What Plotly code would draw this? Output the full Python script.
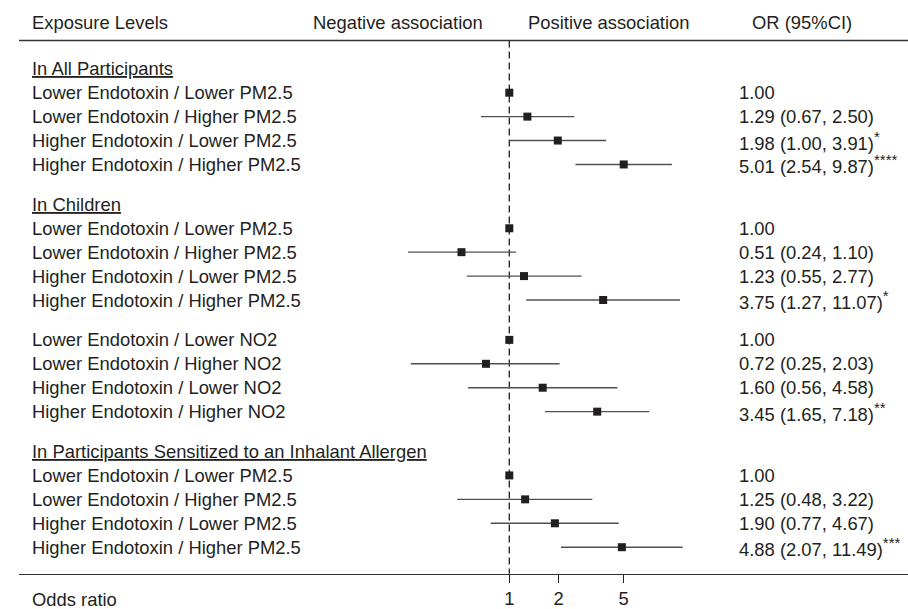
import plotly.graph_objects as go

# ---------------- data ----------------
col_titles = ["Exposure Levels", "Negative association", "Positive association", "OR (95%CI)"]
axis_title = "Odds ratio"
x_ticks = [1, 2, 5]
x_tick_text = ["1", "2", "5"]

header_all = "In All Participants"
header_children = "In Children"
header_sensitized = "In Participants Sensitized to an Inhalant Allergen"

labels_pm = ["Lower Endotoxin / Lower PM2.5", "Lower Endotoxin / Higher PM2.5",
             "Higher Endotoxin / Lower PM2.5", "Higher Endotoxin / Higher PM2.5"]
labels_no2 = ["Lower Endotoxin / Lower NO2", "Lower Endotoxin / Higher NO2",
              "Higher Endotoxin / Lower NO2", "Higher Endotoxin / Higher NO2"]

or_all = [1.00, 1.29, 1.98, 5.01]
lo_all = [None, 0.67, 1.00, 2.54]
hi_all = [None, 2.50, 3.91, 9.87]
sig_all = ["", "", "*", "****"]

or_child_pm = [1.00, 0.51, 1.23, 3.75]
lo_child_pm = [None, 0.24, 0.55, 1.27]
hi_child_pm = [None, 1.10, 2.77, 11.07]
sig_child_pm = ["", "", "", "*"]

or_child_no2 = [1.00, 0.72, 1.60, 3.45]
lo_child_no2 = [None, 0.25, 0.56, 1.65]
hi_child_no2 = [None, 2.03, 4.58, 7.18]
sig_child_no2 = ["", "", "", "**"]

or_sens = [1.00, 1.25, 1.90, 4.88]
lo_sens = [None, 0.48, 0.77, 2.07]
hi_sens = [None, 3.22, 4.67, 11.49]
sig_sens = ["", "", "", "***"]

blocks = [
    (header_all, labels_pm, or_all, lo_all, hi_all, sig_all),
    (header_children, labels_pm, or_child_pm, lo_child_pm, hi_child_pm, sig_child_pm),
    (None, labels_no2, or_child_no2, lo_child_no2, hi_child_no2, sig_child_no2),
    (header_sensitized, labels_pm, or_sens, lo_sens, hi_sens, sig_sens),
]

# ---------------- layout constants ----------------
W, H = 908, 609
FONT = "Liberation Sans, Arial, Helvetica, sans-serif"
FS = 18.4
TXT = "#231f20"
ROW_STEP = 24
BLOCK_GAP = 40
FIRST_Y = 69
HEAD_Y = 23
TOP_LINE_Y = 40.7
AXIS_Y = 575.7
LEFT_LINE_X = 19
LABEL_X = 32
OR_X = 739
OR_HEAD_X = 752
PX_PER_DECADE = 163.5
X_ONE = 509.3

# ---------------- row positions ----------------
rows = []       # (y, label, or, lo, hi, sig)
headers = []    # (y, text)
y = FIRST_Y - BLOCK_GAP
for head, labels, ors, los, his, sigs in blocks:
    y += BLOCK_GAP
    if head is not None:
        headers.append((y, head))
        y += ROW_STEP
    for i in range(len(labels)):
        rows.append((y, labels[i], ors[i], los[i], his[i], sigs[i]))
        if i < len(labels) - 1:
            y += ROW_STEP

fig = go.Figure()

# dashed null line
fig.add_trace(go.Scatter(x=[1, 1], y=[TOP_LINE_Y, AXIS_Y], mode="lines",
                         line=dict(color=TXT, width=1.3, dash="7px,4px"),
                         hoverinfo="skip"))

# CI lines
ci_x, ci_y = [], []
for (yy, lab, o, lo, hi, s) in rows:
    if lo is not None:
        ci_x += [lo, hi, None]
        ci_y += [yy, yy, None]
fig.add_trace(go.Scatter(x=ci_x, y=ci_y, mode="lines",
                         line=dict(color="#505050", width=1.4), hoverinfo="skip"))

# point estimates
fig.add_trace(go.Scatter(x=[r[2] for r in rows], y=[r[0] for r in rows], mode="markers",
                         marker=dict(symbol="square", size=8, color=TXT,
                                     line=dict(width=0))))

# top rule
fig.add_shape(type="line", xref="paper", yref="y", x0=LEFT_LINE_X / W, x1=1,
              y0=TOP_LINE_Y, y1=TOP_LINE_Y, line=dict(color="#333333", width=1.5))

ann = []
def add_text(x_px, yy, text, anchor="left"):
    ann.append(dict(x=x_px / W, xref="paper", y=yy, yref="y", text=text,
                    showarrow=False, xanchor=anchor, yanchor="middle",
                    borderpad=0, borderwidth=0,
                    font=dict(family=FONT, size=FS, color=TXT)))

add_text(LABEL_X, HEAD_Y, col_titles[0])
add_text(483, HEAD_Y, col_titles[1], "right")
add_text(527.7, HEAD_Y, col_titles[2])
add_text(OR_HEAD_X, HEAD_Y, col_titles[3])

for yy, h in headers:
    add_text(LABEL_X, yy, "<u>" + h + "</u>")

for (yy, lab, o, lo, hi, s) in rows:
    add_text(LABEL_X, yy, lab)
    t = f"{o:.2f}"
    if lo is not None:
        t += f" ({lo:.2f}, {hi:.2f})"
    if s:
        t += f"<sup><span style='font-size:15px'>{s}</span></sup>"
    add_text(OR_X, yy, t)

add_text(LABEL_X, 601.7, axis_title)

x0_dec = -(X_ONE - LEFT_LINE_X) / PX_PER_DECADE
x1_dec = (W - X_ONE) / PX_PER_DECADE

fig.update_layout(
    width=W, height=H,
    margin=dict(l=0, r=0, t=0, b=0),
    paper_bgcolor="white", plot_bgcolor="white",
    showlegend=False,
    annotations=ann,
    font=dict(family=FONT, size=FS, color=TXT),
    xaxis=dict(type="log", range=[x0_dec, x1_dec], domain=[LEFT_LINE_X / W, 1],
               anchor="free", position=(H - AXIS_Y) / H,
               showline=True, linecolor="#333333", linewidth=1.5,
               ticks="outside", ticklen=8, tickwidth=1.3, tickcolor=TXT,
               tickvals=x_ticks, ticktext=x_tick_text,
               tickfont=dict(family=FONT, size=FS, color=TXT),
               showgrid=False, zeroline=False, fixedrange=True),
    yaxis=dict(range=[H, 0], domain=[0, 1], visible=False,
               showgrid=False, zeroline=False, fixedrange=True),
)

fig.write_html("out.html",
               config={"displayModeBar": False, "staticPlot": True},
               post_script="document.body.style.margin='0px';document.body.style.overflow='hidden';")
